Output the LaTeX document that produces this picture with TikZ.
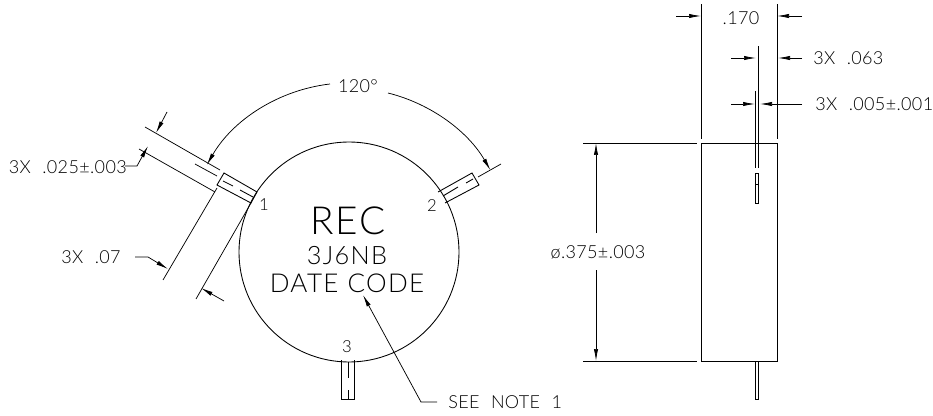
\documentclass[tikz,border=0pt]{standalone}
\usepackage{fontspec}
\setmainfont{Lato Light}
\newfontfamily\dimfont[LetterSpace=2,WordSpace=2.2]{Lato Light}
\newfontfamily\markfont[LetterSpace=5,WordSpace=1.1]{Lato Light}
\usetikzlibrary{arrows.meta}

\begin{document}
\begin{tikzpicture}[
    x=0.75pt, y=0.75pt,
    part/.style={line width=0.65pt},
    thin line/.style={line width=0.55pt},
    dim/.style={line width=0.55pt, -{Latex[length=9pt,width=3.2pt]}},
    lab/.style={inner sep=0pt, font=\dimfont\fontsize{13.5}{14}\selectfont},
    pin/.style={inner sep=0pt, font=\fontsize{12.5}{14}\selectfont}
]
\useasboundingbox (0,0) rectangle (933,415);

% Round body, top view
\coordinate (center) at (349,163);
\draw[part] (center) circle (110);
\node[inner sep=0pt, font=\markfont\fontsize{29}{30}\selectfont] (rec) at (348,194) {REC};
\node[inner sep=0pt, font=\markfont\fontsize{19}{20}\selectfont] (part) at (347,159.5) {3J6NB};
\node[inner sep=0pt, font=\markfont\fontsize{19.5}{21}\selectfont] (date) at (347,132) {DATE CODE};
\node[pin] (pin1) at (264,210) {1};
\node[pin] (pin2) at (432,209) {2};
\node[pin] (pin3) at (347,68) {3};

% Leads
\draw[part] (224,242) -- (217,230) -- (251,212) -- (257,223) -- cycle;
\draw[part] (223,234) -- (233,229) (240,225) -- (253,218);
\draw[part] (438,223) -- (472,242) -- (479,230) -- (445,212);
\draw[part] (443,219) -- (458,228) (466,232) -- (473,236);
\draw[part] (341,55) -- (341,16) -- (354,16) -- (354,55);
\draw[part] (348,53) -- (348,37) (348,25) -- (348,16);

% 120 degree dimension
\draw[dim] (330,331) arc[start angle=96.6, end angle=150, radius=164];
\draw[dim] (388,322) arc[start angle=76, end angle=30, radius=164];
\node[lab] (angle) at (358,329) {120°};
\draw[thin line] (478,238) -- (501,251);

% Lead width, pin 1
\draw[thin line] (145,288) -- (220,245);
\draw[thin line] (139,266) -- (215,223);
\draw[thin line] (195,251) -- (217,239);
\draw[dim] (167,303) -- (156,282);
\draw[dim] (125,249) -- (137,249) -- (148,269);
\node[lab, anchor=east] (width) at (127,248) {3X .025±.003};

% Lead length, pin 1
\draw[thin line] (217,227) -- (163,135);
\draw[thin line] (251,212) -- (196,116);
\draw[dim] (135,158) -- (148,158) -- (168,146);
\draw[dim] (224,114) -- (201,127);
\node[lab] (length) at (91,158) {3X .07};

% Note leader
\draw[dim] (437,13) -- (421,13) -- (363,120);
\node[lab, anchor=west] (note) at (448,13) {SEE NOTE 1};

% Side view
\draw[part] (701,54) rectangle (777,272);
\draw[part] (755,54) rectangle (758,16);
\draw[part] (755,247) -- (755,324);
\draw[part] (758,247) -- (758,369);
\draw[part] (755,212) rectangle (758,242);
\draw[part] (755,231) -- (758,231);

% Side view extension lines
\draw[part] (583,272) -- (697,272);
\draw[part] (583,54) -- (697,54);
\draw[part] (701,276) -- (701,411);
\draw[part] (777,276) -- (777,411);

% Side view dimensions
\draw[dim] (596,182) -- (596,272);
\draw[dim] (596,145) -- (596,54);
\node[lab] (dia) at (598,163) {ø.375±.003};

\draw[dim] (676,399) -- (701,399);
\draw[dim] (802,399) -- (777,399);
\node[lab] (body) at (741,397) {.170};

\draw[dim] (731,357) -- (756,357);
\draw[dim] (802,357) -- (778,357);
\node[lab, anchor=west] (gap) at (813,357) {3X .063};

\draw[dim] (731,311) -- (755,311);
\draw[dim] (802,311) -- (760,311);
\node[lab, anchor=west] (thick) at (815,311) {3X .005±.001};

\end{tikzpicture}
\end{document}
